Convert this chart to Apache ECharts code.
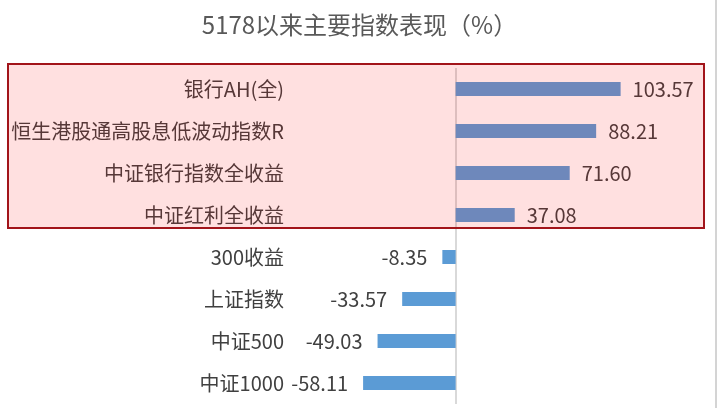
<!DOCTYPE html>
<html>
<head>
<meta charset="utf-8">
<script src="https://cdn.jsdelivr.net/npm/echarts@6/dist/echarts.min.js"></script>
<style>
html,body{margin:0;padding:0;background:#fff;}
#main{width:719px;height:408px;}
</style>
</head>
<body>
<div id="main"></div>
<script>
const titleText = '5178以来主要指数表现（%）';
const categories = ['银行AH(全)', '恒生港股通高股息低波动指数R', '中证银行指数全收益', '中证红利全收益', '300收益', '上证指数', '中证500', '中证1000'];
const values = [103.57, 88.21, 71.60, 37.08, -8.35, -33.57, -49.03, -58.11];
const highlightedCount = 4;

const FONT = '"Microsoft YaHei", "Noto Sans CJK SC", sans-serif';
const chart = echarts.init(document.getElementById('main'), null, {renderer: 'canvas'});

const barData = values.map(function (v) {
  return {
    value: v,
    label: v >= 0 ? {position: 'right', distance: 12} : {position: 'left', distance: 15}
  };
});

chart.setOption({
  animation: false,
  backgroundColor: '#ffffff',
  title: {
    text: titleText,
    left: 'center',
    top: 13,
    padding: [0, 24, 0, 0],
    textStyle: {fontFamily: FONT, fontSize: 24, fontWeight: 'normal', color: '#595959'}
  },
  grid: {left: 290, right: 8.5, top: 68, bottom: 4, containLabel: false},
  xAxis: {
    type: 'value',
    min: -104,
    max: 160,
    show: false,
    splitLine: {show: false}
  },
  yAxis: {
    type: 'category',
    data: categories,
    inverse: true,
    axisLine: {show: false},
    axisTick: {show: false},
    splitLine: {show: false},
    axisLabel: {margin: 6, fontFamily: FONT, fontSize: 20, color: '#404040'}
  },
  series: [{
    type: 'bar',
    data: barData,
    barWidth: 14,
    itemStyle: {color: '#5b9bd5'},
    label: {
      show: true,
      fontFamily: FONT,
      fontSize: 20,
      color: '#404040',
      formatter: function (p) { return p.value.toFixed(2); }
    },
    markLine: {
      silent: true,
      symbol: 'none',
      label: {show: false},
      lineStyle: {color: '#d9d9d9', width: 2, type: 'solid'},
      data: [{xAxis: 0}],
      z: 1
    }
  }],
  graphic: [
    {
      type: 'rect',
      z: 100,
      silent: true,
      shape: {x: 8, y: 64, width: 696, height: 164},
      style: {fill: 'rgba(255,0,0,0.12)', stroke: '#a2141a', lineWidth: 2}
    },
    {
      type: 'line',
      z: 100,
      silent: true,
      shape: {x1: 716, y1: 0, x2: 716, y2: 408},
      style: {stroke: '#d4d4d4', lineWidth: 2}
    }
  ]
});
</script>
</body>
</html>
